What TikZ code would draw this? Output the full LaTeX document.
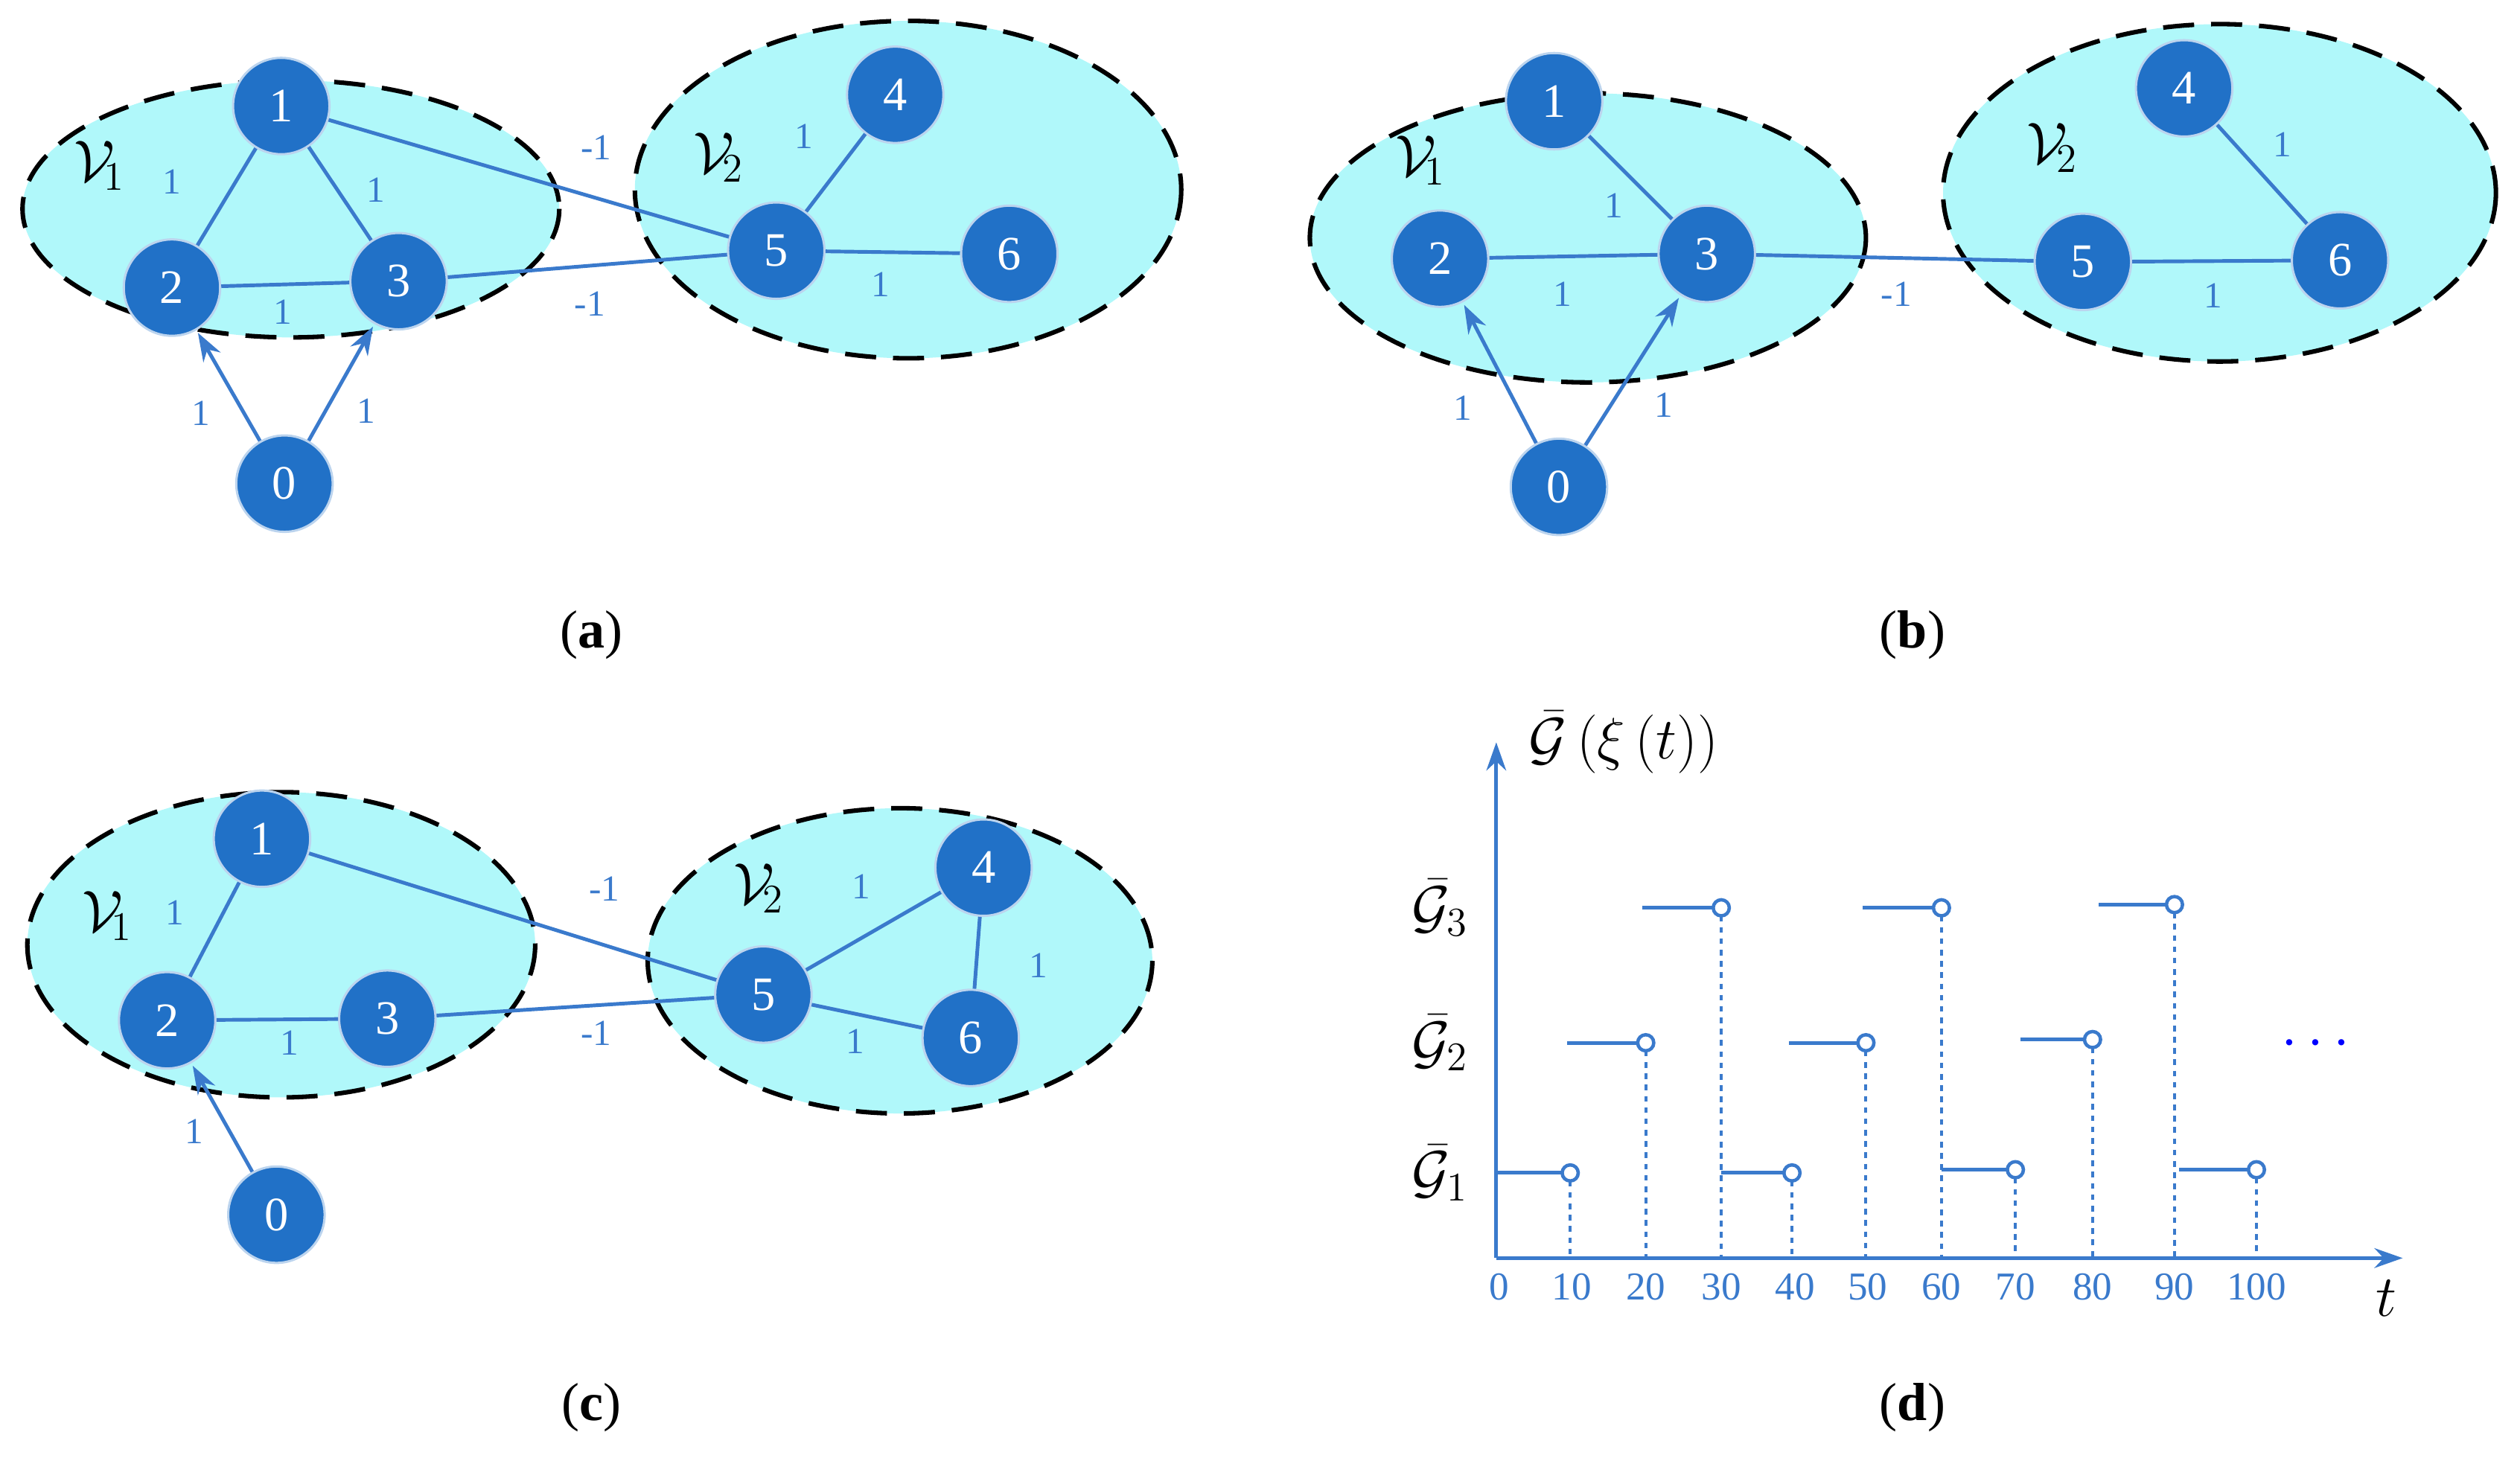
\documentclass[tikz,border=0pt]{standalone}
\usepackage{fontspec}
\setmainfont{Liberation Serif}
\usetikzlibrary{arrows.meta}
\definecolor{nb}{RGB}{33,113,199}
\definecolor{eb}{RGB}{58,122,204}
\definecolor{fillc}{RGB}{176,248,250}
\begin{document}
\begin{tikzpicture}[x=0.02cm,y=-0.02cm,
  grp/.style={draw=black,fill=fillc,line width=1.6pt,dash pattern=on 11pt off 6pt},
  vx/.style={circle,fill=nb,draw=white!70!nb,line width=0.8pt,minimum size=1.2cm,inner sep=0,text=white,font=\fontsize{17}{17}\selectfont},
  ed/.style={draw=eb,line width=1.3pt},
  ar/.style={ed,-{Stealth[length=10pt,width=7pt]},shorten >=1pt},
  wl/.style={text=eb,font=\fontsize{13}{13}\selectfont},
  sl/.style={font=\fontsize{22}{22}\selectfont},
  pl/.style={font=\fontsize{19}{19}\selectfont}]
\useasboundingbox (0,0) rectangle (1568,909);
% ---------- (a)
\draw[grp] (181,130) ellipse [x radius=167,y radius=80];
\draw[grp] (565,118) ellipse [x radius=170,y radius=105];
\node[sl] (aV1) at (62,103) {$\mathcal{V}_{\!1}$};
\node[sl] (aV2) at (447,98) {$\mathcal{V}_{\!2}$};
\node[vx] (a1) at (175,66) {1};
\node[vx] (a2) at (107,179) {2};
\node[vx] (a3) at (248,175) {3};
\node[vx] (a0) at (177,301) {0};
\node[vx] (a4) at (557,59) {4};
\node[vx] (a5) at (483,156) {5};
\node[vx] (a6) at (628,158) {6};
\path[ed] (a1)--(a5) (a3)--(a5) (a1)--(a2) (a1)--(a3) (a2)--(a3) (a5)--(a4) (a5)--(a6);
\draw[ar] (a0)--(a2); \draw[ar] (a0)--(a3);
\node[wl] at (371,92) {-1}; \node[wl] at (367,189) {-1};
\node[wl] at (107,113) {1}; \node[wl] at (234,118) {1}; \node[wl] at (176,194) {1};
\node[wl] at (500,85) {1}; \node[wl] at (548,177) {1};
\node[wl] at (125,257) {1}; \node[wl] at (228,256) {1};
\node[pl] (la) at (368,395) {(\textbf{a})};
% ---------- (b)
\draw[grp] (988,148) ellipse [x radius=173,y radius=90];
\draw[grp] (1381,120) ellipse [x radius=172,y radius=105];
\node[sl] (bV1) at (884,100) {$\mathcal{V}_{\!1}$};
\node[sl] (bV2) at (1277,92) {$\mathcal{V}_{\!2}$};
\node[vx] (b1) at (967,63) {1};
\node[vx] (b2) at (896,161) {2};
\node[vx] (b3) at (1062,158) {3};
\node[vx] (b0) at (970,303) {0};
\node[vx] (b4) at (1359,55) {4};
\node[vx] (b5) at (1296,163) {5};
\node[vx] (b6) at (1456,162) {6};
\path[ed] (b1)--(b3) (b2)--(b3) (b3)--(b5) (b4)--(b6) (b5)--(b6);
\draw[ar] (b0)--(b2); \draw[ar] (b0)--(b3);
\node[wl] at (1004,128) {1}; \node[wl] at (972,183) {1}; \node[wl] at (1180,183) {-1};
\node[wl] at (1420,90) {1}; \node[wl] at (1377,184) {1};
\node[wl] at (910,254) {1}; \node[wl] at (1035,252) {1};
\node[pl] (lb) at (1190,395) {(\textbf{b})};
% ---------- (c)
\draw[grp] (175,588) ellipse [x radius=158,y radius=95];
\draw[grp] (560,598) ellipse [x radius=157,y radius=95];
\node[sl] (cV1) at (67,570) {$\mathcal{V}_{\!1}$};
\node[sl] (cV2) at (472,553) {$\mathcal{V}_{\!2}$};
\node[vx] (c1) at (163,522) {1};
\node[vx] (c2) at (104,635) {2};
\node[vx] (c3) at (241,634) {3};
\node[vx] (c0) at (172,756) {0};
\node[vx] (c4) at (612,540) {4};
\node[vx] (c5) at (475,619) {5};
\node[vx] (c6) at (604,646) {6};
\path[ed] (c1)--(c5) (c3)--(c5) (c1)--(c2) (c2)--(c3) (c5)--(c4) (c5)--(c6) (c4)--(c6);
\draw[ar] (c0)--(c2);
\node[wl] at (376,553) {-1}; \node[wl] at (371,643) {-1};
\node[wl] at (109,568) {1}; \node[wl] at (180,649) {1};
\node[wl] at (536,552) {1}; \node[wl] at (532,648) {1}; \node[wl] at (646,601) {1};
\node[wl] at (121,704) {1};
\node[pl] (lc) at (368,876) {(\textbf{c})};
% ---------- (d)
\coordinate (O) at (931,783);
\coordinate (Ytop) at (931,462);
\coordinate (Xend) at (1495,783);
\draw[ed,-{Stealth[length=10pt,width=7pt]}] (O)--(Ytop);
\draw[ed,-{Stealth[length=10pt,width=7pt]}] (O)--(Xend);
\node[anchor=west,font=\fontsize{20}{20}\selectfont] (ylab) at (945,462) {$\bar{\mathcal{G}}\left(\xi\left(t\right)\right)$};
\node[font=\fontsize{20}{20}\selectfont] (g1) at (896,730) {$\bar{\mathcal{G}}_1$};
\node[font=\fontsize{20}{20}\selectfont] (g2) at (896,649) {$\bar{\mathcal{G}}_2$};
\node[font=\fontsize{20}{20}\selectfont] (g3) at (896,565) {$\bar{\mathcal{G}}_3$};
\node[font=\fontsize{22}{22}\selectfont\itshape] (tl) at (1485,808) {$t$};
\node[text=blue,font=\fontsize{20}{20}\selectfont] (dots) at (1441,650) {$\cdots$};
\foreach \lab/\xx in {0/933,10/978,20/1024,30/1071,40/1117,50/1162,60/1208,70/1254,80/1302,90/1353,100/1404}
  \node[wl,font=\fontsize{14}{14}\selectfont] at (\xx,801) {\lab};
\foreach \xa/\xb/\yy in {931/977/730, 975/1024/649, 1022/1071/565, 1071/1115/730, 1113/1161/649, 1159/1208/565, 1208/1254/728, 1257/1302/647, 1306/1353/563, 1356/1404/728}{
  \draw[ed] (\xa,\yy)--(\xb-5,\yy);
  \draw[ed,line width=1.2pt,fill=white] (\xb,\yy) circle [radius=5];
  \draw[ed,line width=1.1pt,dash pattern=on 2pt off 2pt] (\xb,\yy+5)--(\xb,783);
}
\node[pl] (ld) at (1190,876) {(\textbf{d})};
\end{tikzpicture}
\end{document}
